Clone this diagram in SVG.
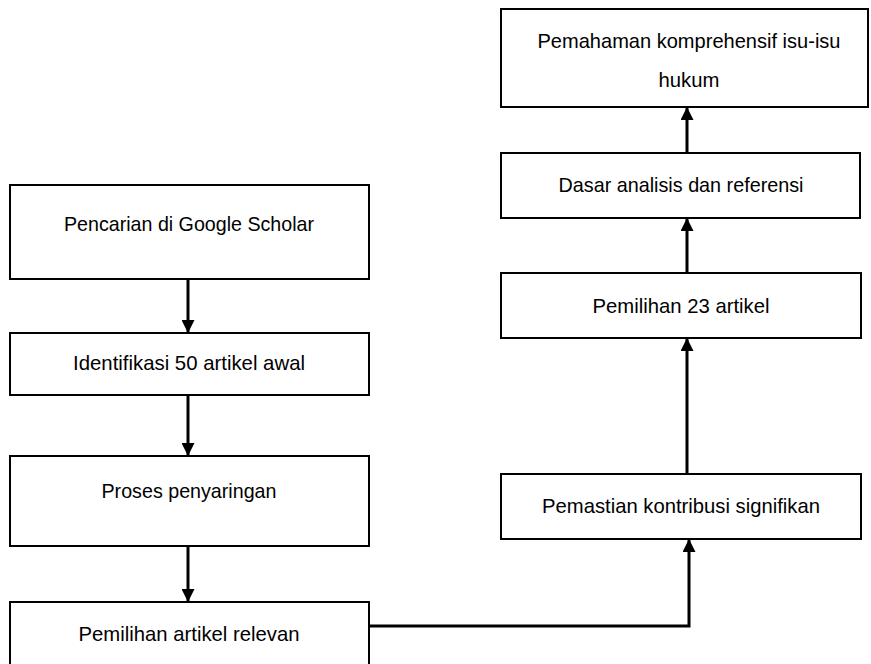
<svg xmlns="http://www.w3.org/2000/svg" width="871" height="664" viewBox="0 0 871 664">
<style>
.box{fill:#fff;stroke:#000;stroke-width:2}
.lbl{font-family:"Liberation Sans",Arial,sans-serif;font-size:21px;fill:#000;text-anchor:middle}
.conn{fill:none;stroke:#000;stroke-width:3}
</style>
<defs>
<marker id="ah" viewBox="0 0 10 10" refX="10" refY="5" markerUnits="userSpaceOnUse" markerWidth="13" markerHeight="13" orient="auto">
<path d="M0,0 L10,5 L0,10 Z" fill="#000"/>
</marker>
</defs>
<rect width="871" height="664" fill="#fff"/>
<g id="n1"><rect class="box" x="10" y="185" width="359" height="94"/><text class="lbl" x="189" y="231" textLength="250" lengthAdjust="spacingAndGlyphs">Pencarian di Google Scholar</text></g>
<g id="n2"><rect class="box" x="10" y="333" width="359" height="62"/><text class="lbl" x="189" y="370" textLength="232" lengthAdjust="spacingAndGlyphs">Identifikasi 50 artikel awal</text></g>
<g id="n3"><rect class="box" x="10" y="456" width="359" height="90"/><text class="lbl" x="189" y="498" textLength="175" lengthAdjust="spacingAndGlyphs">Proses penyaringan</text></g>
<g id="n4"><rect class="box" x="10" y="602" width="359" height="70"/><text class="lbl" x="189" y="641" textLength="221" lengthAdjust="spacingAndGlyphs">Pemilihan artikel relevan</text></g>
<g id="n5"><rect class="box" x="501" y="474" width="360" height="65"/><text class="lbl" x="681" y="513" textLength="278" lengthAdjust="spacingAndGlyphs">Pemastian kontribusi signifikan</text></g>
<g id="n6"><rect class="box" x="501" y="273" width="360" height="65"/><text class="lbl" x="681" y="313" textLength="177" lengthAdjust="spacingAndGlyphs">Pemilihan 23 artikel</text></g>
<g id="n7"><rect class="box" x="501" y="153" width="359" height="65"/><text class="lbl" x="681" y="192" textLength="245" lengthAdjust="spacingAndGlyphs">Dasar analisis dan referensi</text></g>
<g id="n8"><rect class="box" x="501" y="9" width="367" height="98"/><text class="lbl" x="689" y="48" textLength="303" lengthAdjust="spacingAndGlyphs">Pemahaman komprehensif isu-isu</text><text class="lbl" x="689" y="87" textLength="61" lengthAdjust="spacingAndGlyphs">hukum</text></g>
<g id="connectors">
<line class="conn" x1="188" y1="280" x2="188" y2="333" marker-end="url(#ah)"/>
<line class="conn" x1="188" y1="396" x2="188" y2="456" marker-end="url(#ah)"/>
<line class="conn" x1="188" y1="547" x2="188" y2="602" marker-end="url(#ah)"/>
<polyline class="conn" points="369,626 689,626 689,539" marker-end="url(#ah)"/>
<line class="conn" x1="687" y1="474" x2="687" y2="338" marker-end="url(#ah)"/>
<line class="conn" x1="687" y1="273" x2="687" y2="218" marker-end="url(#ah)"/>
<line class="conn" x1="687" y1="153" x2="687" y2="107" marker-end="url(#ah)"/>
</g>
</svg>
